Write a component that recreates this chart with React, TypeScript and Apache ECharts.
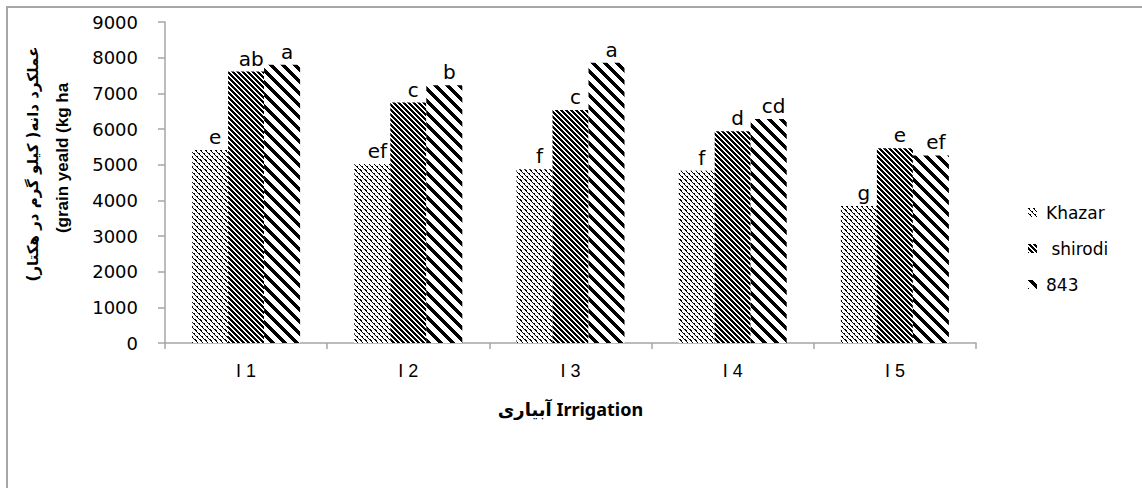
import React, { useEffect, useRef } from "react";
import * as echarts from "echarts";

const categories = ["I 1", "I 2", "I 3", "I 4", "I 5"];
const seriesNames = ["Khazar", " shirodi", "843"];
const khazar = [5410, 5020, 4870, 4830, 3840];
const shirodi = [7610, 6740, 6530, 5940, 5460];
const s843 = [7800, 7230, 7860, 6280, 5260];
const khazarLetters = ["e", "ef", "f", "f", "g"];
const shirodiLetters = ["ab", "c", "c", "d", "e"];
const s843Letters = ["a", "b", "a", "cd", "ef"];
const yTicks = [0, 1000, 2000, 3000, 4000, 5000, 6000, 7000, 8000, 9000];
const yTitleFa = "عملکرد دانه( کیلو گرم در هکتار)";
const yTitleEn = "(grain yeald (kg ha";
const xTitle = "آبیاری Irrigation";

function makePattern(size: number, fn: (x: number, y: number) => boolean) {
  const c = document.createElement("canvas");
  c.width = size;
  c.height = size;
  const ctx = c.getContext("2d")!;
  const img = ctx.createImageData(size, size);
  for (let y = 0; y < size; y++) {
    for (let x = 0; x < size; x++) {
      const i = (y * size + x) * 4;
      const on = fn(x, y);
      const v = on ? 0 : 255;
      img.data[i] = v;
      img.data[i + 1] = v;
      img.data[i + 2] = v;
      img.data[i + 3] = 255;
    }
  }
  ctx.putImageData(img, 0, 0);
  return { image: c as any, repeat: "repeat" as const };
}

const mod = (a: number, n: number) => ((a % n) + n) % n;

export default function App() {
  const ref = useRef<HTMLDivElement>(null);
  useEffect(() => {
    if (!ref.current) return;
    const chart = echarts.init(ref.current, undefined, { renderer: "svg" });
    const pKhazar = makePattern(10, (x, y) => {
      const d = mod(x - y, 5);
      return d === 0 || (d === 1 && mod(y, 3) === 0);
    });
    const pShirodi = makePattern(5, (x, y) => mod(x - y, 5) < 3);
    const p843 = makePattern(12, (x, y) => mod(x - y, 12) < 5);
    const patterns = [pKhazar, pShirodi, p843];
    const values = [khazar, shirodi, s843];
    const letters = [khazarLetters, shirodiLetters, s843Letters];
    const axisColor = "#a6a6a6";
    const font = "'Liberation Sans', Arial, sans-serif";
    const wide = "'DejaVu Sans', sans-serif";
    chart.setOption({
      animation: false,
      grid: { left: 165, right: 166, top: 22, bottom: 145 },
      legend: {
        orient: "vertical",
        left: 1023,
        top: 199,
        itemWidth: 9,
        itemHeight: 9,
        itemGap: 19,
        icon: "rect",
        textStyle: { fontFamily: wide, fontSize: 17, color: "#000", padding: [0, 0, 0, 4] },
        data: seriesNames,
      },
      xAxis: {
        type: "category",
        data: categories,
        axisLine: { lineStyle: { color: axisColor, width: 1.5 } },
        axisTick: { show: true, length: 6, lineStyle: { color: axisColor, width: 1.5 } },
        axisLabel: { color: "#000", fontFamily: font, fontSize: 18, margin: 19 },
        name: xTitle,
        nameLocation: "middle",
        nameGap: 57,
        nameTextStyle: { color: "#000", fontFamily: "'Noto Sans', 'DejaVu Sans', sans-serif", fontWeight: "bold", fontSize: 18 },
      },
      yAxis: {
        type: "value",
        min: 0,
        max: 9000,
        interval: 1000,
        axisLine: { show: true, lineStyle: { color: axisColor, width: 1.5 } },
        axisTick: { show: true, length: 7, lineStyle: { color: axisColor, width: 1.5 } },
        splitLine: { show: false },
        axisLabel: {
          color: "#000",
          fontFamily: wide,
          fontSize: 18,
          margin: 27,
          formatter: (v: number) => (yTicks.includes(v) ? String(v) : ""),
        },
      },
      series: seriesNames.map((name, s) => ({
        name,
        type: "bar",
        data: values[s],
        barWidth: 36,
        barGap: "0%",
        itemStyle: { color: patterns[s] },
        emphasis: { disabled: true },
        label: {
          show: true,
          position: "top",
          distance: 3,
          offset: [5, 0],
          color: "#000",
          fontFamily: wide,
          fontSize: 20,
          formatter: (p: any) => letters[s][p.dataIndex],
        },
      })),
      graphic: [
        {
          type: "rect",
          shape: { x: 7, y: 7, width: 1300, height: 700 },
          style: { fill: "none", stroke: "#a6a6a6", lineWidth: 2 },
          silent: true,
        },
        {
          type: "text",
          x: 33,
          y: 164,
          rotation: Math.PI / 2,
          style: {
            text: yTitleFa,
            font: "bold 15px 'DejaVu Sans', 'Noto Sans', sans-serif",
            fill: "#000",
            align: "center",
            verticalAlign: "middle",
          },
        },
        {
          type: "text",
          x: 62,
          y: 158,
          rotation: Math.PI / 2,
          style: {
            text: yTitleEn,
            font: "bold 17px 'Liberation Sans', Arial, sans-serif",
            fill: "#000",
            align: "center",
            verticalAlign: "middle",
          },
        },
      ],
    });
    return () => chart.dispose();
  }, []);
  return (
    <div
      ref={ref}
      style={{ position: "fixed", left: 0, top: 0, width: 1142, height: 488, background: "#fff" }}
    />
  );
}
